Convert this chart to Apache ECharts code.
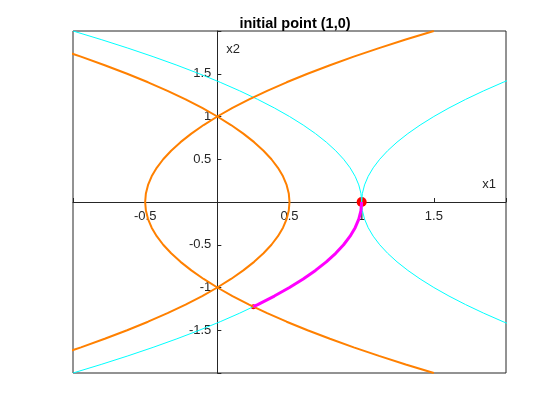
<!DOCTYPE html>
<html>
<head>
<meta charset="utf-8">
<script src="https://cdn.jsdelivr.net/npm/echarts@6/dist/echarts.min.js"></script>
<style>html,body{margin:0;padding:0;background:#fff}#c{width:560px;height:420px}</style>
</head>
<body>
<div id="c"></div>
<script>
// shared x2 samples (y values) from -2 to 2
const yGrid = [-2.0,-1.9,-1.8,-1.7,-1.6,-1.5,-1.4,-1.3,-1.2,-1.1,-1.0,-0.9,-0.8,-0.7,-0.6,-0.5,-0.4,-0.3,-0.2,-0.1,0,
  0.1,0.2,0.3,0.4,0.5,0.6,0.7,0.8,0.9,1.0,1.1,1.2,1.3,1.4,1.5,1.6,1.7,1.8,1.9,2.0];
// orange curve opening left (vertex at 0.5,0)
const orangeLeftX = [-1.5,-1.305,-1.12,-0.945,-0.78,-0.625,-0.48,-0.345,-0.22,-0.105,0,0.095,0.18,0.255,0.32,0.375,0.42,0.455,0.48,0.495,0.5,
  0.495,0.48,0.455,0.42,0.375,0.32,0.255,0.18,0.095,0,-0.105,-0.22,-0.345,-0.48,-0.625,-0.78,-0.945,-1.12,-1.305,-1.5];
// orange curve opening right (vertex at -0.5,0)
const orangeRightX = [1.5,1.305,1.12,0.945,0.78,0.625,0.48,0.345,0.22,0.105,0,-0.095,-0.18,-0.255,-0.32,-0.375,-0.42,-0.455,-0.48,-0.495,-0.5,
  -0.495,-0.48,-0.455,-0.42,-0.375,-0.32,-0.255,-0.18,-0.095,0,0.105,0.22,0.345,0.48,0.625,0.78,0.945,1.12,1.305,1.5];
// cyan curve opening left (vertex at 1,0)
const cyanLeftX = [-1,-0.805,-0.62,-0.445,-0.28,-0.125,0.02,0.155,0.28,0.395,0.5,0.595,0.68,0.755,0.82,0.875,0.92,0.955,0.98,0.995,1,
  0.995,0.98,0.955,0.92,0.875,0.82,0.755,0.68,0.595,0.5,0.395,0.28,0.155,0.02,-0.125,-0.28,-0.445,-0.62,-0.805,-1];
// cyan curve opening right (vertex at 1,0)
const cyanRightX = [3,2.805,2.62,2.445,2.28,2.125,1.98,1.845,1.72,1.605,1.5,1.405,1.32,1.245,1.18,1.125,1.08,1.045,1.02,1.005,1,
  1.005,1.02,1.045,1.08,1.125,1.18,1.245,1.32,1.405,1.5,1.605,1.72,1.845,1.98,2.125,2.28,2.445,2.62,2.805,3];
// magenta path
const pathX = [1,0.995,0.98,0.955,0.92,0.875,0.82,0.755,0.68,0.595,0.5,0.395,0.28,0.25];
const pathY = [0,-0.1,-0.2,-0.3,-0.4,-0.5,-0.6,-0.7,-0.8,-0.9,-1.0,-1.1,-1.2,-1.2247];
const startPoint = [1, 0];
const endPoint = [0.25, -1.2247];
const xTickLabels = ['-0.5','0.5','1','1.5'];
const yTickLabels = ['-1.5','-1','-0.5','0.5','1','1.5'];

const zip = (xs, ys) => xs.map((x, i) => [x, ys[i]]);
const FONT = 'Liberation Sans, Arial, Helvetica, sans-serif';
const TXT = '#262626';
const fmt = (list) => (v) => { const s = String(Math.round(v*10)/10); return list.indexOf(s) >= 0 ? s : ''; };

const GL = 73, GR = 54, GT = 31, GB = 47;
const GW = 560 - GL - GR, GH = 420 - GT - GB;
const XMIN = -1, XMAX = 2, YMIN = -2, YMAX = 2;
// shift axes so they cross at the origin
const xAxisOffset = -GH * (0 - YMIN) / (YMAX - YMIN);
const yAxisOffset = -GW * (0 - XMIN) / (XMAX - XMIN);

const chart = echarts.init(document.getElementById('c'));
chart.setOption({
  animation: false,
  backgroundColor: '#fff',
  title: {
    text: 'initial point (1,0)', left: 290, textAlign: 'center', top: 11,
    textStyle: { fontFamily: FONT, fontSize: 14.5, fontWeight: 'bold', color: '#000' }
  },
  grid: { left: GL, right: GR, top: GT, bottom: GB, show: true, borderColor: TXT, borderWidth: 1, backgroundColor: 'transparent' },
  xAxis: {
    type: 'value', min: XMIN, max: XMAX, interval: 0.5, position: 'bottom', offset: xAxisOffset,
    axisLine: { onZero: false, lineStyle: { color: TXT, width: 1 } },
    axisTick: { inside: true, length: 4, lineStyle: { color: TXT } },
    axisLabel: { formatter: fmt(xTickLabels), color: TXT, fontFamily: FONT, fontSize: 13, margin: 8, showMinLabel: true, showMaxLabel: true },
    splitLine: { show: false },
    name: 'x1', nameLocation: 'end', nameGap: -10,
    nameTextStyle: { align: 'right', verticalAlign: 'bottom', padding: [0,0,11,0], color: TXT, fontFamily: FONT, fontSize: 13 }
  },
  yAxis: {
    type: 'value', min: YMIN, max: YMAX, interval: 0.5, position: 'left', offset: yAxisOffset,
    axisLine: { onZero: false, lineStyle: { color: TXT, width: 1 } },
    axisTick: { inside: true, length: 4, lineStyle: { color: TXT } },
    axisLabel: { formatter: fmt(yTickLabels), color: TXT, fontFamily: FONT, fontSize: 13, margin: 6, showMinLabel: true, showMaxLabel: true },
    splitLine: { show: false },
    name: 'x2', nameLocation: 'end', nameGap: -12,
    nameTextStyle: { align: 'left', verticalAlign: 'top', padding: [0,0,0,9], color: TXT, fontFamily: FONT, fontSize: 13 }
  },
  series: [
    { type: 'line', data: zip(cyanLeftX, yGrid), showSymbol: false, clip: true, lineStyle: { color: '#00FFFF', width: 1 } },
    { type: 'line', data: zip(cyanRightX, yGrid), showSymbol: false, clip: true, lineStyle: { color: '#00FFFF', width: 1 } },
    { type: 'line', data: zip(orangeLeftX, yGrid), showSymbol: false, clip: true, lineStyle: { color: '#FF8000', width: 2 } },
    { type: 'line', data: zip(orangeRightX, yGrid), showSymbol: false, clip: true, lineStyle: { color: '#FF8000', width: 2 } },
    { type: 'line', data: zip(pathX, pathY), showSymbol: false, clip: true, lineStyle: { color: '#FF00FF', width: 3 } },
    { type: 'scatter', data: [startPoint], symbolSize: 10, itemStyle: { color: '#FF0000', opacity: 1 } },
    { type: 'scatter', data: [endPoint], symbolSize: 5, itemStyle: { color: '#FF0000', opacity: 1 } }
  ]
});
</script>
</body>
</html>
